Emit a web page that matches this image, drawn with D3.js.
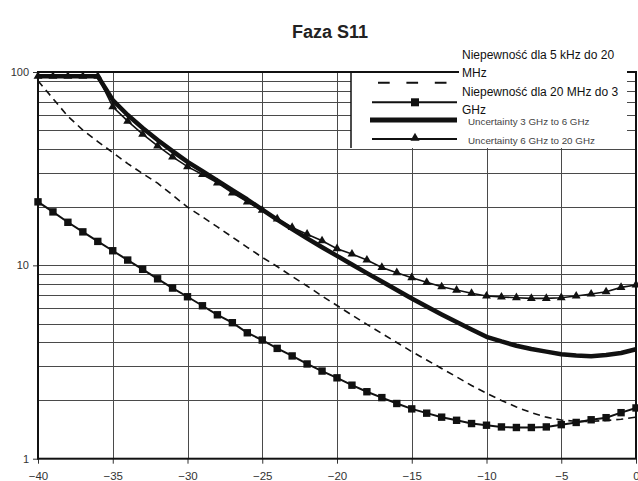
<!DOCTYPE html>
<html><head><meta charset="utf-8">
<script src="https://cdn.jsdelivr.net/npm/d3@7"></script>
<style>body{margin:0;background:#fff}svg{display:block;font-family:"Liberation Sans",Arial,sans-serif}</style>
</head><body><svg id="c" width="638" height="481"></svg>
<script>
const title = "Faza S11";
const xValues = [-40,-39,-38,-37,-36,-35,-34,-33,-32,-31,-30,-29,-28,-27,-26,-25,-24,-23,-22,-21,-20,-19,-18,-17,-16,-15,-14,-13,-12,-11,-10,-9,-8,-7,-6,-5,-4,-3,-2,-1,0];
const series5kHz = [90,72.9,59.0,50.1,43.7,38.3,33.6,29.8,26.6,23.1,20.0,17.8,15.8,14.0,12.4,11.0,9.86,8.77,7.82,6.94,6.20,5.53,4.95,4.44,3.99,3.58,3.24,2.93,2.65,2.39,2.18,2.00,1.85,1.73,1.64,1.585,1.56,1.56,1.575,1.60,1.64];
const series20MHz = [21.3,18.9,16.7,14.9,13.3,11.9,10.65,9.54,8.52,7.63,6.88,6.18,5.55,5.05,4.48,4.11,3.72,3.40,3.09,2.84,2.62,2.40,2.22,2.07,1.93,1.81,1.72,1.64,1.58,1.52,1.49,1.46,1.45,1.45,1.46,1.50,1.54,1.59,1.63,1.73,1.83];
const series3GHz = [95,95,95,95,95,71.6,59.9,51.3,44.5,39.0,34.3,30.7,27.4,24.5,21.9,19.4,17.25,15.4,13.8,12.4,11.2,10.1,9.12,8.25,7.45,6.74,6.12,5.57,5.09,4.66,4.27,4.04,3.84,3.69,3.58,3.47,3.42,3.39,3.44,3.52,3.68];
const series6GHz = [95,95,95,95,95,66.1,55.7,47.7,41.5,36.4,32.4,29.5,26.7,23.7,21.3,19.3,17.4,15.7,14.5,13.4,12.2,11.44,10.65,9.76,9.16,8.63,8.17,7.75,7.45,7.17,6.94,6.86,6.80,6.75,6.75,6.80,6.94,7.11,7.30,7.69,7.92];
const xTickValues = [-40,-35,-30,-25,-20,-15,-10,-5,0];
const yTickValues = [1,10,100];
const legendLines = [["Niepewność dla 5 kHz do 20","MHz"],["Niepewność dla 20 MHz do 3","GHz"],["Uncertainty 3 GHz to 6 GHz"],["Uncertainty 6 GHz to 20 GHz"]];

const svg = d3.select('#c');
const x = d3.scaleLinear().domain([-40,0]).range([38,636]);
const y = d3.scaleLog().domain([1,100]).range([458.7,72]);
const ink = "#111";

// title
svg.append("text").attr("x",330).attr("y",38).attr("text-anchor","middle")
  .attr("font-size",18).attr("font-weight","bold").attr("fill","#222").text(title);

// gridlines
const grid = svg.append("g").attr("stroke","#4a4a4a").attr("stroke-width",1).attr("shape-rendering","crispEdges");
grid.selectAll("line.h").data(y.ticks().filter(v=>v>1&&v<100)).join("line")
  .attr("x1",38).attr("x2",636).attr("y1",d=>Math.round(y(d))+0.5).attr("y2",d=>Math.round(y(d))+0.5);
grid.selectAll("line.v").data(xTickValues.filter(v=>v>-40&&v<0)).join("line")
  .attr("y1",72).attr("y2",458.7).attr("x1",d=>Math.round(x(d))+0.5).attr("x2",d=>Math.round(x(d))+0.5);

// axes
const yAxis = svg.append("g").attr("transform","translate(38,0)")
  .call(d3.axisLeft(y).tickValues(yTickValues).tickFormat(d3.format("d")).tickSize(5).tickPadding(4));
yAxis.select(".domain").remove();
yAxis.selectAll("text").attr("font-size",11).attr("fill","#333").attr("font-family","Liberation Sans, Arial, sans-serif");
yAxis.selectAll("line").attr("stroke","#333");
const xAxis = svg.append("g").attr("transform","translate(0,458.7)")
  .call(d3.axisBottom(x).tickValues(xTickValues).tickFormat(d3.format("d")).tickSize(5).tickPadding(8));
xAxis.select(".domain").remove();
xAxis.selectAll("text").attr("font-size",11.5).attr("fill","#333").attr("font-family","Liberation Sans, Arial, sans-serif");
xAxis.selectAll("line").attr("stroke","#333");

// plot border
svg.append("rect").attr("x",38).attr("y",72).attr("width",598).attr("height",386.7)
  .attr("fill","none").attr("stroke",ink).attr("stroke-width",2);

// series
const line = d3.line().x((d,i)=>x(xValues[i])).y(d=>y(d));
svg.append("path").datum(series5kHz).attr("d",line).attr("fill","none")
  .attr("stroke",ink).attr("stroke-width",1.6).attr("stroke-dasharray","7,5");
svg.append("path").datum(series20MHz).attr("d",line).attr("fill","none")
  .attr("stroke",ink).attr("stroke-width",2);
svg.append("g").selectAll("rect").data(series20MHz).join("rect")
  .attr("x",(d,i)=>x(xValues[i])-3.7).attr("y",d=>y(d)-3.7).attr("width",7.4).attr("height",7.4).attr("fill",ink);
svg.append("path").datum(series3GHz).attr("d",line).attr("fill","none")
  .attr("stroke",ink).attr("stroke-width",4.5).attr("stroke-linejoin","round");
svg.append("path").datum(series6GHz).attr("d",line).attr("fill","none")
  .attr("stroke",ink).attr("stroke-width",1.6);
const tri = d3.symbol().type(d3.symbolTriangle).size(34);
svg.append("g").selectAll("path").data(series6GHz).join("path")
  .attr("transform",(d,i)=>`translate(${x(xValues[i])},${y(d)})`).attr("d",tri).attr("fill",ink);

// legend
const lg = svg.append("g");
lg.append("rect").attr("x",351).attr("y",73).attr("width",276).attr("height",75).attr("fill","#fff");
lg.append("rect").attr("x",459).attr("y",69).attr("width",168).attr("height",5).attr("fill","#fff");
lg.append("line").attr("x1",351).attr("x2",351).attr("y1",72).attr("y2",148).attr("stroke",ink).attr("stroke-width",1.5);
// samples
lg.append("line").attr("x1",378).attr("x2",448).attr("y1",82.7).attr("y2",82.7).attr("stroke",ink).attr("stroke-width",2).attr("stroke-dasharray","11.7,16.7");
lg.append("line").attr("x1",372).attr("x2",457).attr("y1",102.3).attr("y2",102.3).attr("stroke",ink).attr("stroke-width",2);
lg.append("rect").attr("x",411).attr("y",98.3).attr("width",8).attr("height",8).attr("fill",ink);
lg.append("line").attr("x1",370).attr("x2",457).attr("y1",120).attr("y2",120).attr("stroke",ink).attr("stroke-width",5);
lg.append("line").attr("x1",372).attr("x2",457).attr("y1",139).attr("y2",139).attr("stroke",ink).attr("stroke-width",1.8);
lg.append("path").attr("transform","translate(415,138)").attr("d",d3.symbol().type(d3.symbolTriangle).size(36)()).attr("fill",ink);
// labels
const lab = [[legendLines[0][0],462,59,12,"#111"],[legendLines[0][1],462,77.3,12,"#111"],
  [legendLines[1][0],462,96.3,12,"#111"],[legendLines[1][1],462,114,12,"#111"],
  [legendLines[2][0],468,125,9.8,"#444"],[legendLines[3][0],468,143.5,9.8,"#444"]];
lg.selectAll("text").data(lab).join("text").attr("x",d=>d[1]).attr("y",d=>d[2])
  .attr("font-size",d=>d[3]).attr("fill",d=>d[4]).text(d=>d[0]);
</script></body></html>
